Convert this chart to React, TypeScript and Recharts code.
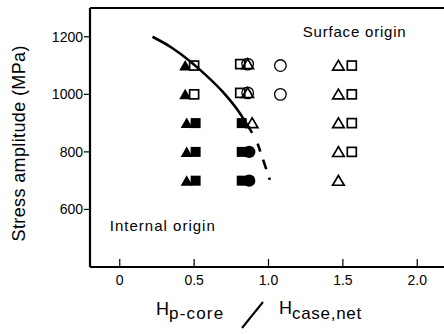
import { ScatterChart, Scatter, XAxis, YAxis, ReferenceDot } from "recharts";

const FONT = "'Liberation Sans', Arial, Helvetica, sans-serif";

const xTicks = [0, 0.5, 1.0, 1.5, 2.0];
const xTickLabels = ["0", "0.5", "1.0", "1.5", "2.0"];
const yTicks = [600, 800, 1000, 1200];

// left column, around 0.5
const filledTriangles = [
  { x: 0.44, y: 1100 },
  { x: 0.44, y: 1000 },
  { x: 0.45, y: 900 },
  { x: 0.45, y: 800 },
  { x: 0.45, y: 700 },
];
const leftOpenSquares = [
  { x: 0.5, y: 1100 },
  { x: 0.5, y: 1000 },
];
const leftFilledSquares = [
  { x: 0.51, y: 900 },
  { x: 0.51, y: 800 },
  { x: 0.51, y: 700 },
];

// middle column, around 0.85
const midOpenSquares = [
  { x: 0.81, y: 1105 },
  { x: 0.81, y: 1005 },
];
const midOpenTriangles = [
  { x: 0.86, y: 1105 },
  { x: 0.86, y: 1005 },
  { x: 0.89, y: 900 },
];
const midOpenCircles = [
  { x: 0.86, y: 1105 },
  { x: 0.86, y: 1005 },
];
const midFilledSquares = [
  { x: 0.82, y: 900 },
  { x: 0.82, y: 800 },
  { x: 0.82, y: 700 },
];
const midFilledCircles = [
  { x: 0.87, y: 800 },
  { x: 0.87, y: 700 },
];
const farOpenCircles = [
  { x: 1.08, y: 1100 },
  { x: 1.08, y: 1000 },
];

// right column, around 1.5
const rightOpenTriangles = [
  { x: 1.47, y: 1100 },
  { x: 1.47, y: 1000 },
  { x: 1.47, y: 900 },
  { x: 1.47, y: 800 },
  { x: 1.47, y: 700 },
];
const rightOpenSquares = [
  { x: 1.56, y: 1100 },
  { x: 1.56, y: 1000 },
  { x: 1.56, y: 900 },
  { x: 1.56, y: 800 },
];

// transition boundary
const boundarySolid = [
  { x: 0.22, y: 1200 },
  { x: 0.35, y: 1162 },
  { x: 0.47, y: 1116 },
  { x: 0.54, y: 1085 },
  { x: 0.69, y: 1010 },
  { x: 0.79, y: 947 },
  { x: 0.89, y: 866 },
];
const boundaryDashed = [
  { x: 0.927, y: 829 },
  { x: 1.009, y: 703 },
];

const K = "#000";
const SW = 1.7;

const FilledTri = (p: any) => (
  <polygon points={`${p.cx - 6},${p.cy + 5} ${p.cx},${p.cy - 5.5} ${p.cx + 6},${p.cy + 5}`} fill={K} />
);
const OpenTri = (p: any) => (
  <polygon
    points={`${p.cx - 5.8},${p.cy + 4.6} ${p.cx},${p.cy - 5.2} ${p.cx + 5.8},${p.cy + 4.6}`}
    fill="none"
    stroke={K}
    strokeWidth={SW}
  />
);
const FilledSq = (p: any) => <rect x={p.cx - 5} y={p.cy - 5} width={10} height={10} fill={K} />;
const OpenSq = (p: any) => (
  <rect x={p.cx - 4.5} y={p.cy - 4.5} width={9} height={9} fill="#fff" stroke={K} strokeWidth={SW} />
);
const OpenCirc = (p: any) => <circle cx={p.cx} cy={p.cy} r={5.8} fill="none" stroke={K} strokeWidth={1.3} />;
const FilledCirc = (p: any) => <circle cx={p.cx} cy={p.cy} r={6.2} fill={K} />;
const NoDot = () => <g />;

const LeftTick = (p: any) => (
  <g>
    <line x1={p.x - 6} x2={p.x} y1={p.y} y2={p.y} stroke={K} strokeWidth={1.2} />
    <text x={p.x - 7} y={p.y + 5} textAnchor="end" fontSize={14} fontFamily={FONT} fill={K}>
      {p.payload.value}
    </text>
  </g>
);
const RightTick = (p: any) => (
  <line x1={p.x - 6} x2={p.x} y1={p.y} y2={p.y} stroke={K} strokeWidth={1.2} />
);
const BottomTick = (p: any) => (
  <g>
    <line x1={p.x} x2={p.x} y1={p.y - 8} y2={p.y} stroke={K} strokeWidth={1.2} />
    <text x={p.x} y={p.y + 18} textAnchor="middle" fontSize={14} fontFamily={FONT} fill={K}>
      {xTickLabels[xTicks.indexOf(p.payload.value)]}
    </text>
  </g>
);
const TopTick = (p: any) => (
  <line x1={p.x} x2={p.x} y1={p.y} y2={p.y + 7} stroke={K} strokeWidth={1.2} />
);

const YTitle = (props: any) => {
  const vb = props.viewBox;
  const cx = vb.x + 19;
  const cy = vb.y + vb.height / 2 + 6;
  return (
    <text
      x={cx}
      y={cy}
      transform={`rotate(-90 ${cx} ${cy})`}
      textAnchor="middle"
      dominantBaseline="central"
      fontSize={18}
      fontFamily={FONT}
      fill={K}
      textLength={196}
      lengthAdjust="spacing"
    >
      Stress amplitude (MPa)
    </text>
  );
};

// H_p-core / H_case,net
const XTitle = (props: any) => {
  const vb = props.viewBox;
  const x0 = vb.x;
  const y0 = vb.y;
  return (
    <g fontFamily={FONT} fill={K}>
      <text x={x0 + 66} y={y0 + 48} fontSize={18}>
        H
        <tspan dy={4} fontSize={17} letterSpacing={1.2}>p-core</tspan>
      </text>
      <line x1={x0 + 152} y1={y0 + 61} x2={x0 + 173} y2={y0 + 35} stroke={K} strokeWidth={2} />
      <text x={x0 + 189} y={y0 + 47} fontSize={18}>
        H
        <tspan dy={5} fontSize={17} letterSpacing={0.7}>case,net</tspan>
      </text>
    </g>
  );
};

const Note = (text: string, len: number) => (p: any) => (
  <text x={p.cx} y={p.cy} fontSize={15} fontFamily={FONT} fill={K} textLength={len} lengthAdjust="spacing">
    {text}
  </text>
);

export default function App() {
  return (
    <div style={{ position: "absolute", left: 0, top: 0, width: 444, height: 334, overflow: "hidden", background: "#fff" }}>
      <ScatterChart width={470} height={334} margin={{ top: 0, right: 0, bottom: 0, left: 0 }}>
        <XAxis
          dataKey="x"
          type="number"
          domain={[-0.2, 2.2]}
          ticks={xTicks}
          height={67}
          tickSize={0}
          tickMargin={0}
          tickLine={false}
          tick={BottomTick}
          axisLine={{ stroke: K, strokeWidth: 2 }}
          label={XTitle}
        />
        <XAxis
          xAxisId="top"
          orientation="top"
          type="number"
          domain={[-0.2, 2.2]}
          ticks={xTicks}
          height={8}
          tickSize={0}
          tickMargin={0}
          tickLine={false}
          tick={TopTick}
          axisLine={{ stroke: K, strokeWidth: 2 }}
        />
        <YAxis
          dataKey="y"
          type="number"
          domain={[400, 1300]}
          ticks={yTicks}
          width={90}
          tickSize={0}
          tickMargin={0}
          tickLine={false}
          tick={LeftTick}
          axisLine={{ stroke: K, strokeWidth: 2.2 }}
          label={YTitle}
        />
        <YAxis
          yAxisId="r"
          orientation="right"
          type="number"
          domain={[400, 1300]}
          ticks={yTicks}
          width={23}
          tickSize={0}
          tickMargin={0}
          tickLine={false}
          tick={RightTick}
          axisLine={{ stroke: K, strokeWidth: 2 }}
        />

        <ReferenceDot x={1.23} y={1200} r={0} shape={Note("Surface origin", 103)} />
        <ReferenceDot x={-0.067} y={525} r={0} shape={Note("Internal origin", 105)} />

        <Scatter data={filledTriangles} shape={FilledTri} isAnimationActive={false} />
        <Scatter data={leftOpenSquares} shape={OpenSq} isAnimationActive={false} />
        <Scatter data={leftFilledSquares} shape={FilledSq} isAnimationActive={false} />
        <Scatter data={midOpenSquares} shape={OpenSq} isAnimationActive={false} />
        <Scatter data={midOpenCircles} shape={OpenCirc} isAnimationActive={false} />
        <Scatter data={midOpenTriangles} shape={OpenTri} isAnimationActive={false} />
        <Scatter data={farOpenCircles} shape={OpenCirc} isAnimationActive={false} />
        <Scatter data={midFilledSquares} shape={FilledSq} isAnimationActive={false} />
        <Scatter data={midFilledCircles} shape={FilledCirc} isAnimationActive={false} />
        <Scatter data={rightOpenTriangles} shape={OpenTri} isAnimationActive={false} />
        <Scatter data={rightOpenSquares} shape={OpenSq} isAnimationActive={false} />

        <Scatter
          data={boundarySolid}
          shape={NoDot}
          line={{ stroke: K, strokeWidth: 2.6, fill: "none" }}
          lineJointType="monotoneX"
          isAnimationActive={false}
        />
        <Scatter
          data={boundaryDashed}
          shape={NoDot}
          line={{ stroke: K, strokeWidth: 2.6, fill: "none", strokeDasharray: "8.5 8.5 10 9 2.5 60" }}
          isAnimationActive={false}
        />
      </ScatterChart>
    </div>
  );
}
